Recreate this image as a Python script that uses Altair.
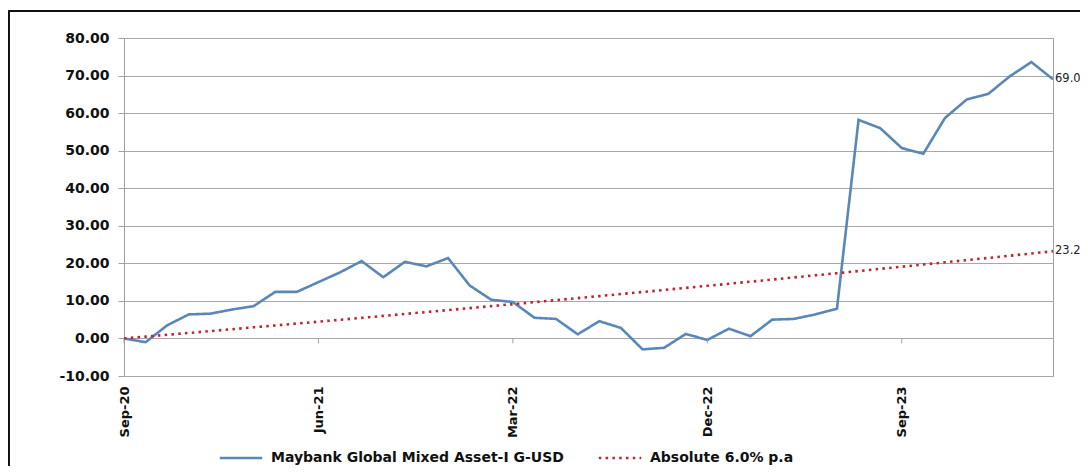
import altair as alt
import pandas as pd

months = [
    "Sep-20", "Oct-20", "Nov-20", "Dec-20", "Jan-21", "Feb-21", "Mar-21", "Apr-21",
    "May-21", "Jun-21", "Jul-21", "Aug-21", "Sep-21", "Oct-21", "Nov-21", "Dec-21",
    "Jan-22", "Feb-22", "Mar-22", "Apr-22", "May-22", "Jun-22", "Jul-22", "Aug-22",
    "Sep-22", "Oct-22", "Nov-22", "Dec-22", "Jan-23", "Feb-23", "Mar-23", "Apr-23",
    "May-23", "Jun-23", "Jul-23", "Aug-23", "Sep-23", "Oct-23", "Nov-23", "Dec-23",
    "Jan-24", "Feb-24", "Mar-24", "Apr-24",
]

fund = [
    0.0, -1.0, 3.5, 6.4, 6.6, 7.7, 8.6, 12.4,
    12.4, 15.0, 17.6, 20.6, 16.3, 20.4, 19.2, 21.4,
    14.1, 10.3, 9.7, 5.5, 5.2, 1.1, 4.6, 2.8,
    -2.9, -2.5, 1.2, -0.4, 2.6, 0.6, 5.0, 5.2,
    6.4, 7.9, 58.2, 56.0, 50.7, 49.2, 58.7, 63.6,
    65.1, 69.8, 73.6, 69.0,
]

bench = [
    0.00, 0.49, 0.98, 1.47, 1.96, 2.46, 2.96, 3.46,
    3.96, 4.46, 4.97, 5.48, 6.00, 6.52, 7.03, 7.55,
    8.08, 8.60, 9.13, 9.66, 10.20, 10.74, 11.28, 11.82,
    12.36, 12.91, 13.46, 14.01, 14.57, 15.12, 15.68, 16.25,
    16.81, 17.38, 17.95, 18.53, 19.10, 19.68, 20.27, 20.85,
    21.44, 22.03, 22.62, 23.22,
]

series_names = ["Maybank Global Mixed Asset-I G-USD", "Absolute 6.0% p.a"]
series_colors = ["#5A86B8", "#C0232B"]
tick_labels = ["Sep-20", "Jun-21", "Mar-22", "Dec-22", "Sep-23"]
y_ticks = [-10, 0, 10, 20, 30, 40, 50, 60, 70, 80]

rows = []
for m, f, b in zip(months, fund, bench):
    rows.append({"month": m, "series": series_names[0], "value": f})
    rows.append({"month": m, "series": series_names[1], "value": b})
df = pd.DataFrame(rows)

ticks_df = pd.DataFrame({"month": tick_labels, "y0": [0.0] * len(tick_labels),
                         "y1": [-1.3] * len(tick_labels)})

x_axis = alt.Axis(
    values=tick_labels,
    tickCount=20,
    title=None,
    labelAngle=270,
    labelAlign="right",
    labelBaseline="middle",
    labelPadding=10,
    labelOverlap=False,
    ticks=False,
    domain=False,
    grid=False,
    labelFont="DejaVu Sans",
    labelFontWeight="bold",
    labelFontSize=13,
    labelColor="#111111",
)

y_axis = alt.Axis(
    values=y_ticks,
    tickCount=20,
    labelExpr="datum.value < 0 ? '-' + format(-datum.value, '.2f') : format(datum.value, '.2f')",
    title=None,
    grid=True,
    gridColor="#a8a8a8",
    gridWidth=1,
    domainColor="#a0a0a0",
    tickColor="#a0a0a0",
    tickSize=6,
    labelPadding=9,
    labelOverlap=False,
    labelFont="DejaVu Sans",
    labelFontWeight="bold",
    labelFontSize=14,
    labelColor="#111111",
)

x_scale = alt.Scale(type="point", padding=0)
y_scale = alt.Scale(domain=[-10, 80], nice=False, zero=False)

legend_cfg = dict(
    title=None,
    orient="none",
    legendX=94,
    legendY=397,
    direction="horizontal",
    symbolType="stroke",
    symbolSize=1800,
    symbolStrokeWidth=2.6,
    labelFont="DejaVu Sans",
    labelFontWeight="bold",
    labelFontSize=14,
    labelColor="#111111",
    labelOffset=7,
    labelLimit=600,
    columnPadding=29,
    padding=0,
)

lines = alt.Chart(df).mark_line(strokeWidth=2.6, strokeCap="butt").encode(
    x=alt.X("month:O", sort=months, scale=x_scale, axis=x_axis),
    y=alt.Y("value:Q", scale=y_scale, axis=y_axis),
    color=alt.Color(
        "series:N",
        scale=alt.Scale(domain=series_names, range=series_colors),
        legend=alt.Legend(**legend_cfg),
    ),
    strokeDash=alt.StrokeDash(
        "series:N",
        scale=alt.Scale(domain=series_names, range=[[1, 0], [2.5, 4.3]]),
        legend=alt.Legend(**legend_cfg),
    ),
)

end_labels = alt.Chart(df).transform_filter(
    alt.datum.month == months[-1]
).mark_text(align="left", baseline="middle", dx=2, font="DejaVu Sans",
            fontSize=11.5, color="#222222").encode(
    x=alt.X("month:O", sort=months, scale=x_scale, axis=x_axis),
    y=alt.Y("value:Q", scale=y_scale, axis=y_axis),
    text=alt.Text("value:Q", format=".1f"),
)

zero_ticks = alt.Chart(ticks_df).mark_rule(color="#a0a0a0", strokeWidth=1).encode(
    x=alt.X("month:O", sort=months, scale=x_scale, axis=x_axis),
    y=alt.Y("y0:Q", scale=y_scale, axis=y_axis),
    y2="y1:Q",
)

frame_top = alt.Chart(ticks_df).mark_rule(color="#111111", strokeWidth=1.5).encode(
    x=alt.value(-115.5), x2=alt.value(1000), y=alt.value(-27)
)
frame_left = alt.Chart(ticks_df).mark_rule(color="#111111", strokeWidth=1.5).encode(
    x=alt.value(-115.3), y=alt.value(-27), y2=alt.value(500)
)

chart = alt.layer(lines, zero_ticks, end_labels, frame_top, frame_left).properties(
    width=929,
    height=338,
    autosize=alt.AutoSizeParams(type="none"),
    padding={"left": 116, "top": 30, "right": 27, "bottom": 90},
    background="white",
).configure_view(
    stroke="#a0a0a0", strokeWidth=1
)

chart.save("out.html", embed_options={"renderer": "svg", "actions": False})
